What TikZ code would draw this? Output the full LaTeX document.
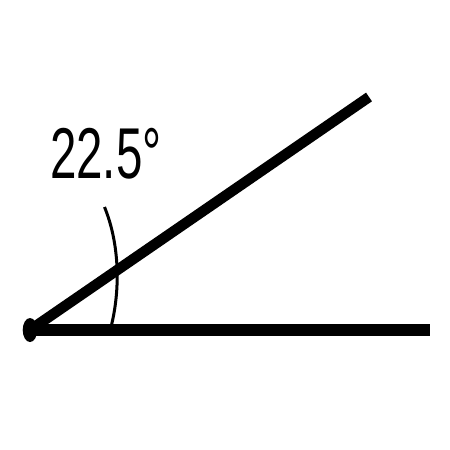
\documentclass[tikz,border=0pt]{standalone}
\usepackage{fontspec}
\setmainfont{Liberation Sans}
\begin{document}
\begin{tikzpicture}[x=1pt,y=-1pt,
  ray/.style={line width=11pt,line cap=butt},
  anglearc/.style={line width=3pt},
  lbl/.style={inner sep=0pt,anchor=base west,xscale=0.66,font=\fontsize{72}{72}\selectfont}]
\useasboundingbox (0,0) rectangle (450,450);
\coordinate (V) at (30,330);
\coordinate (H) at (430,330);
\coordinate (U) at (369,97);
\coordinate (A1) at (104.5,207);
\coordinate (A2) at (111.5,325);
\draw[ray,line width=11.5pt] (V) -- (H);
\draw[ray,line width=10.5pt] (V) -- (U);
\fill (V) ellipse [x radius=7.3pt, y radius=12pt];
\draw[anglearc] (A1) .. controls (120,245) and (120,290) .. (A2);
\node[lbl] (label) at (50,178) {22.5°};
\end{tikzpicture}
\end{document}
